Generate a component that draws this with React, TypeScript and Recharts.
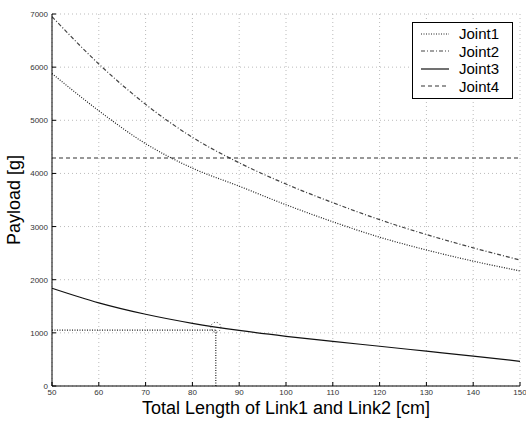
import React from 'react';
import { LineChart, Line, XAxis, YAxis, CartesianGrid, ReferenceLine, ReferenceDot, Legend } from 'recharts';

const lengths = [50, 60, 70, 80, 90, 100, 110, 120, 130, 140, 150];
const joint1 = [5880, 5180, 4560, 4100, 3760, 3410, 3090, 2800, 2560, 2350, 2165];
const joint2 = [6950, 6060, 5300, 4680, 4200, 3800, 3450, 3130, 2850, 2600, 2370];
const joint3 = [1840, 1565, 1350, 1180, 1045, 935, 840, 748, 655, 562, 465];
const joint4 = [4290, 4290, 4290, 4290, 4290, 4290, 4290, 4290, 4290, 4290, 4290];

const xTicks = [50, 60, 70, 80, 90, 100, 110, 120, 130, 140, 150];
const yTicks = [0, 1000, 2000, 3000, 4000, 5000, 6000, 7000];

const seriesNames = ['Joint1', 'Joint2', 'Joint3', 'Joint4'];
const seriesDash = ['1 1.5', '4 2 1 2', '', '4 3'];
const seriesColor = ['#222', '#444', '#111', '#333'];

const markerX = 85;
const markerY = 1050;
const circleY = 1105;

const data = lengths.map((l, i) => ({
  len: l,
  Joint1: joint1[i],
  Joint2: joint2[i],
  Joint3: joint3[i],
  Joint4: joint4[i],
}));

const XTick = (props: any) => {
  const { x, y, payload } = props;
  return (
    <g>
      <line x1={x} y1={y} x2={x} y2={y - 4} stroke="#000" strokeWidth={1} />
      <text x={x} y={y + 9} textAnchor="middle" fontSize={8} fill="#333" fontFamily="Liberation Sans, Arial, sans-serif">
        {payload.value}
      </text>
    </g>
  );
};

const YTick = (props: any) => {
  const { x, y, payload } = props;
  return (
    <g>
      <line x1={x} y1={y} x2={x + 4} y2={y} stroke="#000" strokeWidth={1} />
      <text x={x - 4} y={y + 3} textAnchor="end" fontSize={8} fill="#333" fontFamily="Liberation Sans, Arial, sans-serif">
        {payload.value}
      </text>
    </g>
  );
};

const LegendBox = () => (
  <div
    style={{
      width: 99,
      height: 73,
      border: '1px solid #000',
      background: '#fff',
      fontFamily: 'Liberation Sans, Arial, sans-serif',
      fontSize: 15,
      color: '#000',
      boxSizing: 'content-box',
      paddingTop: 2,
    }}
  >
    {seriesNames.map((n, i) => (
      <div key={n} style={{ display: 'flex', alignItems: 'center', height: 17.5 }}>
        <svg width={40} height={10} style={{ marginLeft: 4 }}>
          <line x1={4} y1={5} x2={32} y2={5} stroke={seriesColor[i]} strokeWidth={1.2} strokeDasharray={seriesDash[i] || undefined} />
        </svg>
        <span style={{ marginLeft: 2 }}>{n}</span>
      </div>
    ))}
  </div>
);

export default function App() {
  return (
    <div style={{ position: 'absolute', left: 0, top: 0 }}>
      <LineChart width={526} height={425} data={data} margin={{ top: 14, right: 6, left: 22, bottom: 9 }}>
        <CartesianGrid stroke="#bbb" strokeDasharray="1 3" />
        <XAxis
          dataKey="len"
          type="number"
          domain={[50, 150]}
          ticks={xTicks}
          tick={<XTick />}
          tickLine={false}
          tickSize={0}
          tickMargin={0}
          height={30}
          axisLine={{ stroke: '#000' }}
          interval={0}
          label={() => (
            <text x={286} y={414} textAnchor="middle" fontSize={18} fill="#000" fontFamily="Liberation Sans, Arial, sans-serif">
              Total Length of Link1 and Link2 [cm]
            </text>
          )}
        />
        <YAxis
          type="number"
          domain={[0, 7000]}
          ticks={yTicks}
          tick={<YTick />}
          tickLine={false}
          tickSize={0}
          tickMargin={0}
          width={30}
          axisLine={{ stroke: '#000' }}
          interval={0}
          label={() => (
            <text x={20} y={200} transform="rotate(-90 20 200)" textAnchor="middle" fontSize={18} fill="#000" fontFamily="Liberation Sans, Arial, sans-serif">
              Payload [g]
            </text>
          )}
        />
        <Legend
          layout="horizontal"
          verticalAlign="middle"
          align="center"
          content={<LegendBox />}
          wrapperStyle={{ left: 412, top: 22, width: 101, height: 75, right: 'auto', bottom: 'auto' }}
        />
        <ReferenceLine segment={[{ x: 50, y: markerY }, { x: markerX, y: markerY }]} stroke="#222" strokeDasharray="1 1.5" strokeWidth={1.2} />
        <ReferenceLine segment={[{ x: markerX, y: 0 }, { x: markerX, y: markerY }]} stroke="#222" strokeDasharray="1 1.5" strokeWidth={1.2} />
        <ReferenceDot x={markerX} y={circleY} r={5} fill="none" stroke="#333" strokeDasharray="1 2" />
        {seriesNames.map((n, i) => (
          <Line
            key={n}
            dataKey={n}
            type="monotone"
            stroke={seriesColor[i]}
            strokeWidth={1.2}
            strokeDasharray={seriesDash[i] || undefined}
            dot={false}
            activeDot={false}
            isAnimationActive={false}
          />
        ))}
      </LineChart>
    </div>
  );
}
